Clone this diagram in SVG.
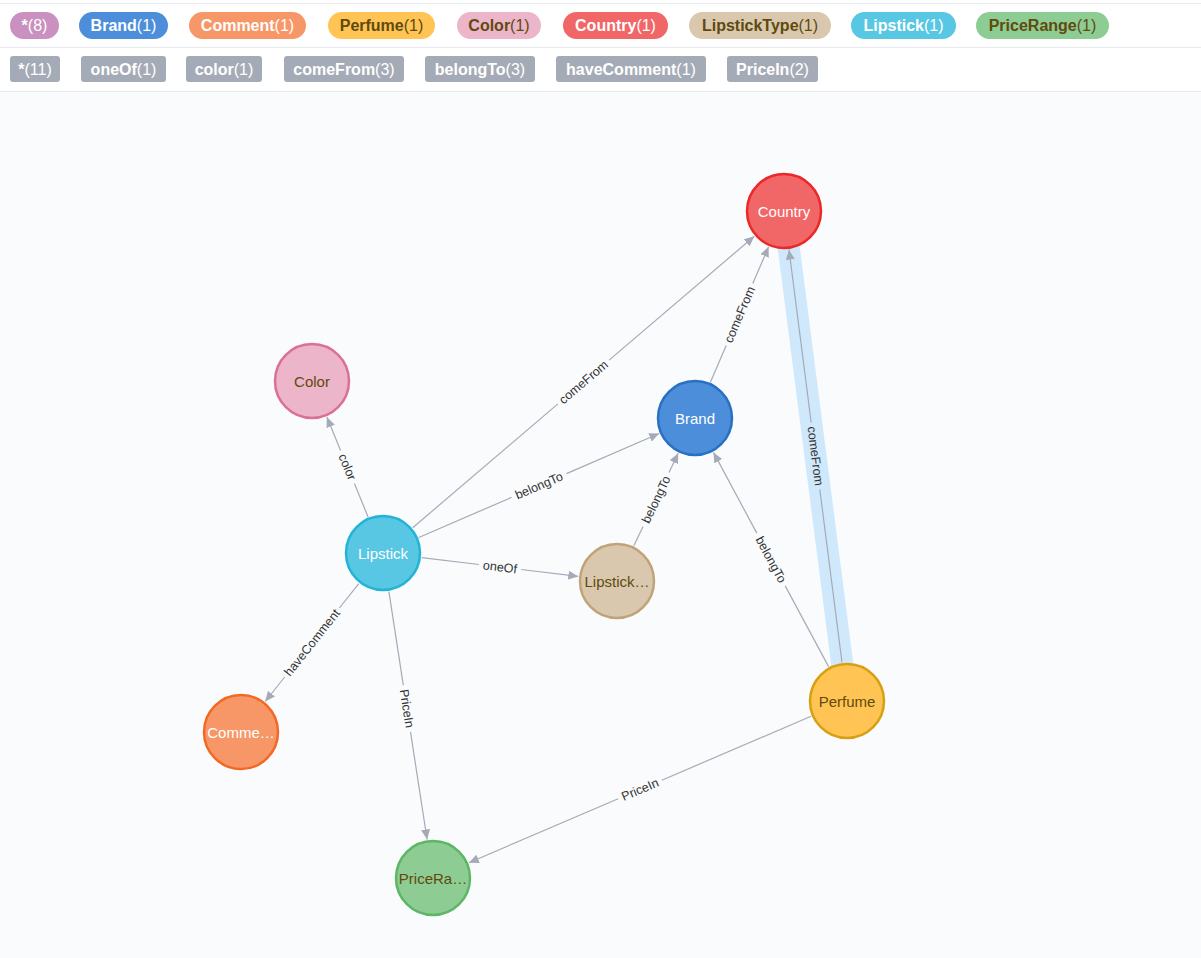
<svg xmlns="http://www.w3.org/2000/svg" width="1201" height="958" viewBox="0 0 1201 958">
<style>
text{font-family:"Liberation Sans",Arial,sans-serif}
.pt{font-size:16px;text-anchor:middle}
.pt .n{font-weight:bold}
.w{fill:#ffffff}
.d{fill:#604a0e}
.tag{fill:#a5abb6}
.e{stroke:#a5abb6;stroke-width:1.2;fill:none}
.ea{stroke:#a5abb6;stroke-width:1.2;fill:none;marker-end:url(#arr)}
.el{font-size:12.5px;fill:#333;text-anchor:middle}
.nl{font-size:15px;text-anchor:middle}
.sep{stroke:#e6e9ef;stroke-width:1}
</style>
<defs>
<marker id="arr" markerUnits="userSpaceOnUse" markerWidth="12" markerHeight="10" refX="10" refY="4.5" orient="auto">
<path d="M0,0 L10,4.5 L0,9 z" fill="#a5abb6"/>
</marker>
</defs>
<rect x="0" y="0" width="1201" height="958" fill="#f9fbfd"/>
<rect x="0" y="0" width="1201" height="92" fill="#ffffff"/>
<line class="sep" x1="0" y1="3.5" x2="1201" y2="3.5"/>
<line class="sep" x1="0" y1="47.5" x2="1201" y2="47.5"/>
<line class="sep" x1="0" y1="91.5" x2="1201" y2="91.5"/>

<g id="legend-labels">
<rect x="10" y="12" width="49" height="27" rx="13.5" fill="#c990c0"/>
<text class="pt w" x="34.5" y="31.2"><tspan class="n">*</tspan>(8)</text>
<rect x="79" y="12" width="89" height="27" rx="13.5" fill="#4c8eda"/>
<text class="pt w" x="123.5" y="31.2"><tspan class="n">Brand</tspan>(1)</text>
<rect x="189" y="12" width="117" height="27" rx="13.5" fill="#f79767"/>
<text class="pt w" x="247.5" y="31.2"><tspan class="n">Comment</tspan>(1)</text>
<rect x="328" y="12" width="107" height="27" rx="13.5" fill="#ffc454"/>
<text class="pt d" x="381.5" y="31.2"><tspan class="n">Perfume</tspan>(1)</text>
<rect x="457" y="12" width="84" height="27" rx="13.5" fill="#ecb5c9"/>
<text class="pt d" x="499" y="31.2"><tspan class="n">Color</tspan>(1)</text>
<rect x="563" y="12" width="105" height="27" rx="13.5" fill="#f16667"/>
<text class="pt w" x="615.5" y="31.2"><tspan class="n">Country</tspan>(1)</text>
<rect x="689" y="12" width="142" height="27" rx="13.5" fill="#d9c8ae"/>
<text class="pt d" x="760" y="31.2"><tspan class="n">LipstickType</tspan>(1)</text>
<rect x="851" y="12" width="105" height="27" rx="13.5" fill="#57c7e3"/>
<text class="pt w" x="903.5" y="31.2"><tspan class="n">Lipstick</tspan>(1)</text>
<rect x="976" y="12" width="133" height="27" rx="13.5" fill="#8dcc93"/>
<text class="pt d" x="1042.5" y="31.2"><tspan class="n">PriceRange</tspan>(1)</text>
</g>

<g id="legend-types">
<rect class="tag" x="10" y="56" width="50" height="26" rx="3"/>
<text class="pt w" x="35" y="74.8"><tspan class="n">*</tspan>(11)</text>
<rect class="tag" x="81" y="56" width="85" height="26" rx="3"/>
<text class="pt w" x="123.5" y="74.8"><tspan class="n">oneOf</tspan>(1)</text>
<rect class="tag" x="186" y="56" width="76" height="26" rx="3"/>
<text class="pt w" x="224" y="74.8"><tspan class="n">color</tspan>(1)</text>
<rect class="tag" x="284" y="56" width="120" height="26" rx="3"/>
<text class="pt w" x="344" y="74.8"><tspan class="n">comeFrom</tspan>(3)</text>
<rect class="tag" x="425" y="56" width="110" height="26" rx="3"/>
<text class="pt w" x="480" y="74.8"><tspan class="n">belongTo</tspan>(3)</text>
<rect class="tag" x="556" y="56" width="150" height="26" rx="3"/>
<text class="pt w" x="631" y="74.8"><tspan class="n">haveComment</tspan>(1)</text>
<rect class="tag" x="727" y="56" width="91" height="26" rx="3"/>
<text class="pt w" x="772.5" y="74.8"><tspan class="n">PriceIn</tspan>(2)</text>
</g>

<g id="connectors">
<line x1="847" y1="701" x2="784" y2="211" stroke="#cfe8fc" stroke-width="22"/>

<path class="e" d="M368.1,517 L354.4,483.6"/>
<path class="ea" d="M340.6,450.4 L326.9,417.1"/>
<text class="el" transform="translate(347.5,467) rotate(67.57)" y="4.3">color</text>

<path class="e" d="M412.7,527.7 L557.9,403.9"/>
<path class="ea" d="M609.1,360.1 L754.3,236.3"/>
<text class="el" transform="translate(583.5,382) rotate(-40.46)" y="4.3">comeFrom</text>

<path class="e" d="M418.8,537.5 L511.5,497.4"/>
<path class="ea" d="M566.5,473.6 L659.2,433.5"/>
<text class="el" transform="translate(539,485.5) rotate(-23.4)" y="4.3">belongTo</text>

<path class="e" d="M421.7,557.6 L478.9,564.5"/>
<path class="ea" d="M521.2,569.5 L578.3,576.4"/>
<text class="el" transform="translate(500,567) rotate(6.82)" y="4.3">oneOf</text>

<path class="e" d="M358.8,583.6 L339.4,608"/>
<path class="ea" d="M284.7,677 L265.2,701.5"/>
<text class="el" transform="translate(312,642.5) rotate(-51.57)" y="4.3">haveComment</text>

<path class="e" d="M388.9,591.6 L403.3,685.1"/>
<path class="ea" d="M410.5,731.9 L427.1,839.5"/>
<text class="el" transform="translate(407,708.5) rotate(81.25)" y="4.3">PriceIn</text>

<path class="e" d="M633.8,545.8 L643.1,526.6"/>
<path class="ea" d="M669,472.4 L678.2,453.2"/>
<text class="el" transform="translate(656,499.5) rotate(-64.43)" y="4.3">belongTo</text>

<path class="e" d="M710.4,382.2 L726.2,345.5"/>
<path class="ea" d="M752.8,283.5 L768.6,246.8"/>
<text class="el" transform="translate(739.5,314.5) rotate(-66.74)" y="4.3">comeFrom</text>

<path class="e" d="M828.6,666.6 L785.2,585.9"/>
<path class="ea" d="M756.8,533.1 L713.5,452.4"/>
<text class="el" transform="translate(771,559.5) rotate(61.76)" y="4.3">belongTo</text>

<path class="e" d="M842,662.3 L819.8,489.4"/>
<path class="ea" d="M811.2,422.6 L789,249.7"/>
<text class="el" transform="translate(815.5,456) rotate(82.67)" y="4.3" fill="#3c4a5a">comeFrom</text>

<path class="e" d="M811.1,716.3 L661.8,780.2"/>
<path class="ea" d="M618.2,798.8 L468.9,862.7"/>
<text class="el" transform="translate(640,789.5) rotate(-23.15)" y="4.3">PriceIn</text>
</g>

<g id="node-country">
<circle cx="784" cy="211" r="37" fill="#f16667" stroke="#eb2728" stroke-width="2.5"/>
<text class="nl w" x="784" y="216.5">Country</text>
</g>
<g id="node-brand">
<circle cx="695" cy="418" r="37" fill="#4c8eda" stroke="#2870c2" stroke-width="2.5"/>
<text class="nl w" x="695" y="423.5">Brand</text>
</g>
<g id="node-lipsticktype">
<circle cx="617" cy="581" r="37" fill="#d9c8ae" stroke="#c0a378" stroke-width="2.5"/>
<text class="nl d" x="617" y="586.5">Lipstick…</text>
</g>
<g id="node-color">
<circle cx="312" cy="381" r="37" fill="#ecb5c9" stroke="#da7194" stroke-width="2.5"/>
<text class="nl d" x="312" y="386.5">Color</text>
</g>
<g id="node-lipstick">
<circle cx="383" cy="553" r="37" fill="#57c7e3" stroke="#23b3d7" stroke-width="2.5"/>
<text class="nl w" x="383" y="558.5">Lipstick</text>
</g>
<g id="node-comment">
<circle cx="241" cy="732" r="37" fill="#f79767" stroke="#f36924" stroke-width="2.5"/>
<text class="nl w" x="241" y="737.5">Comme…</text>
</g>
<g id="node-pricerange">
<circle cx="433" cy="878" r="37" fill="#8dcc93" stroke="#5db665" stroke-width="2.5"/>
<text class="nl d" x="433" y="883.5">PriceRa…</text>
</g>
<g id="node-perfume">
<circle cx="847" cy="701" r="37" fill="#ffc454" stroke="#d7a013" stroke-width="2.5"/>
<text class="nl d" x="847" y="706.5">Perfume</text>
</g>
</svg>
